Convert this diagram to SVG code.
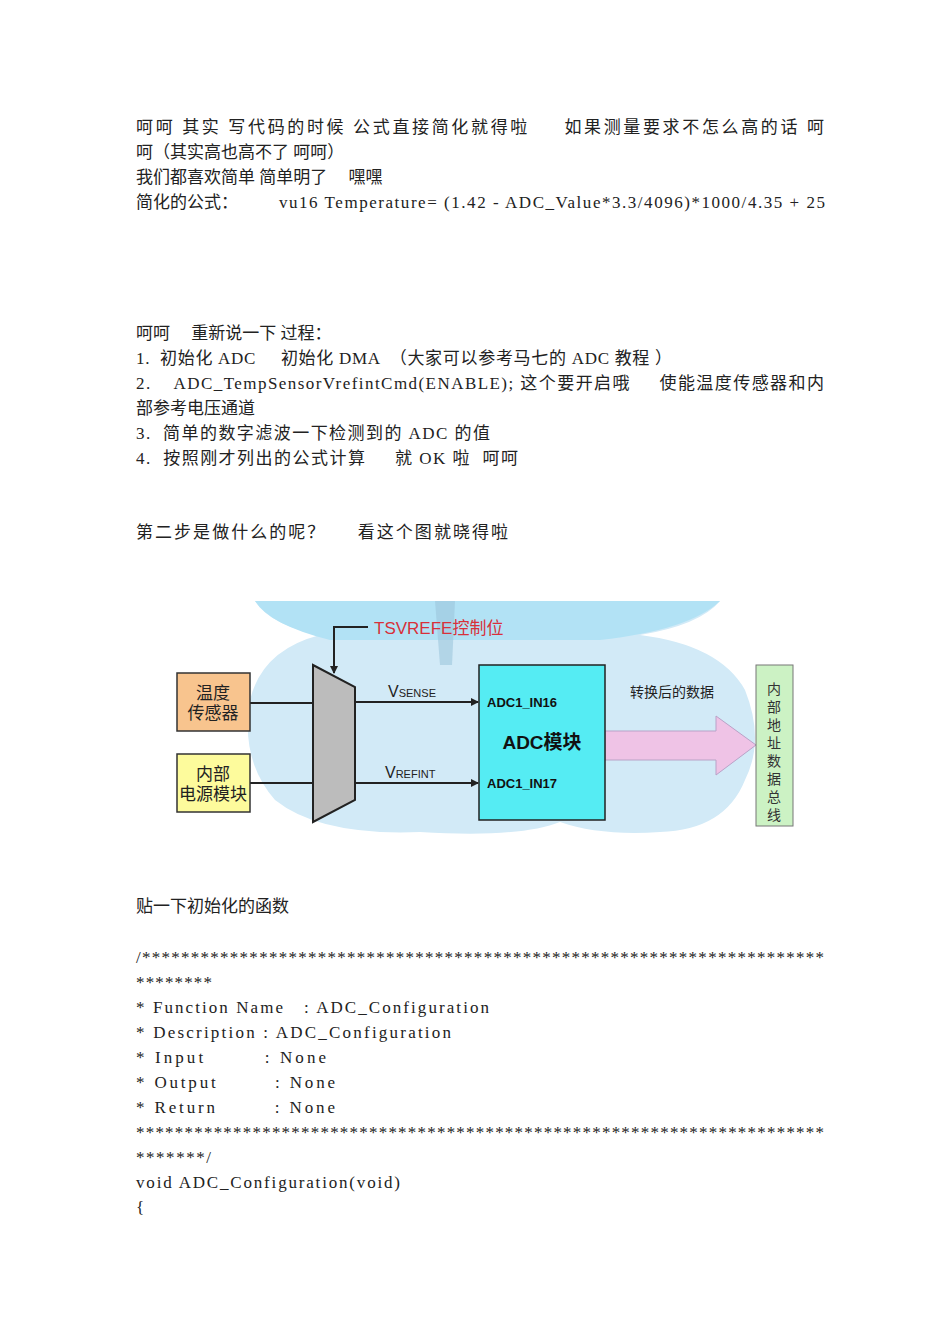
<svg xmlns="http://www.w3.org/2000/svg" width="950" height="1344" viewBox="0 0 950 1344">
<style>
.t{font-family:"Liberation Serif","Noto Sans CJK SC",serif;font-size:17px;fill:#222;white-space:pre}
.d{font-family:"Liberation Sans","Noto Sans CJK SC",sans-serif}
.ln{stroke:#222;stroke-width:2;fill:none}
</style>
<defs><marker id="a" markerWidth="8" markerHeight="8" refX="7" refY="4" orient="auto" markerUnits="userSpaceOnUse"><path d="M0,0 L8,4 L0,8z" fill="#222"/></marker></defs>
<rect width="950" height="1344" fill="#fff"/>
<g id="text">
<text class="t" x="136" y="133" textLength="688">呵呵 其实 写代码的时候 公式直接简化就得啦     如果测量要求不怎么高的话 呵</text>
<text class="t" x="136" y="158">呵（其实高也高不了 呵呵）</text>
<text class="t" x="136" y="183">我们都喜欢简单 简单明了     嘿嘿</text>
<text class="t" x="136" y="208">简化的公式：</text>
<text class="t" x="279" y="208" textLength="546">vu16 Temperature= (1.42 - ADC_Value*3.3/4096)*1000/4.35 + 25</text>
<text class="t" x="136" y="339">呵呵     重新说一下 过程：</text>
<text class="t" x="136" y="364" textLength="536">1.  初始化 ADC     初始化 DMA  （大家可以参考马七的 ADC 教程 ）</text>
<text class="t" x="136" y="389" textLength="688">2.    ADC_TempSensorVrefintCmd(ENABLE); 这个要开启哦     使能温度传感器和内</text>
<text class="t" x="136" y="414">部参考电压通道</text>
<text class="t" x="136" y="439" textLength="354">3.  简单的数字滤波一下检测到的 ADC 的值</text>
<text class="t" x="136" y="464" textLength="382">4.  按照刚才列出的公式计算     就 OK 啦  呵呵</text>
<text class="t" x="136" y="538" textLength="372">第二步是做什么的呢？     看这个图就晓得啦</text>
<text class="t" x="136" y="912">贴一下初始化的函数</text>
<text class="t" x="136" y="963" textLength="688">/**********************************************************************</text>
<text class="t" x="136" y="988" textLength="76">********</text>
<text class="t" x="136" y="1013" textLength="353">* Function Name   : ADC_Configuration</text>
<text class="t" x="136" y="1038" textLength="315">* Description : ADC_Configuration</text>
<text class="t" x="136" y="1063" textLength="190">* Input        : None</text>
<text class="t" x="136" y="1088" textLength="199">* Output        : None</text>
<text class="t" x="136" y="1113" textLength="199">* Return        : None</text>
<text class="t" x="136" y="1138" textLength="688">***********************************************************************</text>
<text class="t" x="136" y="1163" textLength="75">*******/</text>
<text class="t" x="136" y="1188" textLength="264">void ADC_Configuration(void)</text>
<text class="t" x="136" y="1213">{</text>
</g>
<g id="background">
<path d="M255,601 L720,601 Q700,625 640,635 Q720,645 745,690 Q765,740 745,780 Q725,830 660,832 Q600,836 560,822 Q520,838 420,832 Q320,836 275,800 Q240,760 250,700 Q262,650 320,635 Q270,625 255,601z" fill="#d2eaf7"/>
<path d="M255,601 L720,601 Q690,630 600,640 L330,640 Q270,625 255,601z" fill="#b2e2f5"/>
<path d="M435,601 L455,601 L452,665 L440,665z" fill="#9cc7dc" opacity="0.6"/>
</g>
<g id="connectors">
<path class="ln" d="M250,703 L313,703"/>
<path class="ln" d="M250,783 L313,783"/>
<path class="ln" d="M355,702 L478,702" marker-end="url(#a)"/>
<path class="ln" d="M355,783 L478,783" marker-end="url(#a)"/>
<path class="ln" d="M368,627 L334,627 L334,673" marker-end="url(#a)"/>
<path d="M605,731 L716,731 L716,716 L756,745 L716,775 L716,760 L605,760z" fill="#efc3e6" stroke="#b9a2c7" stroke-width="1"/>
</g>
<g id="label-tsvrefe"><text class="d" x="374" y="634" font-size="17" fill="#d8303a">TSVREFE控制位</text></g>
<g id="temp"><rect x="177" y="673" width="73" height="58" fill="#f8c48e" stroke="#333" stroke-width="1.5"/><text class="t" x="213" y="699" text-anchor="middle" font-size="15">温度</text><text class="t" x="213" y="719" text-anchor="middle" font-size="15">传感器</text></g>
<g id="power"><rect x="177" y="754" width="73" height="58" fill="#fdfb9c" stroke="#333" stroke-width="1.5"/><text class="t" x="213" y="780" text-anchor="middle" font-size="15">内部</text><text class="t" x="213" y="800" text-anchor="middle" font-size="15">电源模块</text></g>
<g id="mux"><path d="M313,665 L355,687 L355,800 L313,822z" fill="#bcbcbc" stroke="#222" stroke-width="2"/></g>
<g id="vsense"><text class="d" x="388" y="697" font-size="16" fill="#222">V<tspan font-size="11">SENSE</tspan></text></g>
<g id="vrefint"><text class="d" x="385" y="778" font-size="16" fill="#222">V<tspan font-size="11">REFINT</tspan></text></g>
<g id="adc"><rect x="479" y="665" width="126" height="155" fill="#55ecf3" stroke="#222" stroke-width="1.5"/>
<text class="d" x="487" y="707" font-size="13" font-weight="bold" fill="#111">ADC1_IN16</text>
<text class="d" x="542" y="749" font-size="19" font-weight="bold" fill="#111" text-anchor="middle">ADC模块</text>
<text class="d" x="487" y="788" font-size="13" font-weight="bold" fill="#111">ADC1_IN17</text></g>
<g id="data-label"><text class="d" x="672" y="697" font-size="14" fill="#222" text-anchor="middle">转换后的数据</text></g>
<g id="bus"><rect x="756" y="665" width="37" height="161" fill="#ccf2c4" stroke="#777" stroke-width="1"/>
<text class="d" font-size="14" fill="#333" text-anchor="middle"><tspan x="774" y="694">内</tspan><tspan x="774" y="712">部</tspan><tspan x="774" y="730">地</tspan><tspan x="774" y="748">址</tspan><tspan x="774" y="766">数</tspan><tspan x="774" y="784">据</tspan><tspan x="774" y="802">总</tspan><tspan x="774" y="820">线</tspan></text></g>
</svg>
